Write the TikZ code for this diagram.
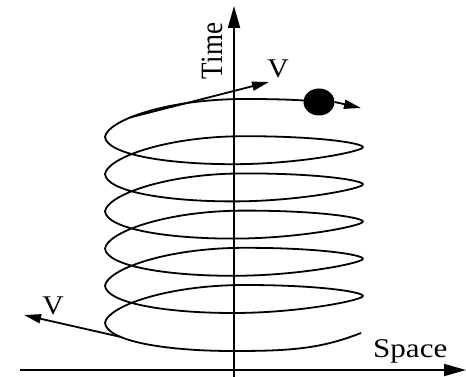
\documentclass[tikz,border=0pt]{standalone}
\usepackage{fontspec}
\setmainfont{Liberation Serif}
\usetikzlibrary{arrows.meta,shapes.geometric}
\tikzset{
  curve/.style={line width=1.8pt, line join=round},
  axis/.style={line width=1.8pt, -{Triangle[length=22pt,width=12pt]}},
  vel/.style={line width=1.8pt, -{Triangle[length=17pt,width=9pt]}},
  lbl/.style={font=\fontsize{27}{32}\selectfont, inner sep=0pt}
}
\begin{document}
\begin{tikzpicture}[x=1pt,y=-1pt]
\useasboundingbox (0,0) rectangle (466,377);
% axes
\coordinate (xa) at (20,370);
\coordinate (xb) at (466,370);
\coordinate (ya) at (234,377);
\coordinate (yb) at (234,6);
\draw[axis] (xa) -- (xb);
\draw[axis] (ya) -- (yb);
\node[lbl, anchor=base west] (space) at (373,357) {\scalebox{1.15}[1]{Space}};
\node[lbl, anchor=base, rotate=90] (time) at (222,51) {\scalebox{1}[1.15]{Time}};
% spiral
\draw[curve] (361,333) .. controls (320,349) and (290,351) .. (233,351)
  .. controls (165,351) and (107,341) .. (105,323)
  foreach \k in {0,...,4} {
   .. controls (107,323-37.2*\k-16) and (165,323-37.2*\k-38) .. (245,323-37.2*\k-38)
   .. controls (320,323-37.2*\k-38) and (363,323-37.2*\k-31) .. (363,323-37.2*\k-27)
   .. controls (363,323-37.2*\k-23) and (300,323-37.2*\k-10) .. (233,323-37.2*\k-10)
   .. controls (165,323-37.2*\k-10) and (107,323-37.2*\k-20) .. (105,323-37.2*\k-37.2)
  }
  .. controls (107,121) and (165,99) .. (245,99)
  .. controls (280,99) and (305,100) .. (319,102);
% ball
\node[draw=none, fill=black, ellipse, minimum width=31pt, minimum height=27pt, inner sep=0pt] (ball) at (319,102) {};
\coordinate (bt) at (361,108);
\draw[vel] (ball.east) -- (bt);
% velocity vectors
\coordinate (v1s) at (130,117.5);
\coordinate (v1e) at (269,82);
\draw[vel] (v1s) -- (v1e);
\node[lbl] (v1) at (278,69) {\scalebox{1.1}[1]{V}};
\coordinate (v2s) at (121,337);
\coordinate (v2e) at (24,315);
\draw[vel] (v2s) -- (v2e);
\node[lbl] (v2) at (53,306) {\scalebox{1.1}[1]{V}};
\end{tikzpicture}
\end{document}
